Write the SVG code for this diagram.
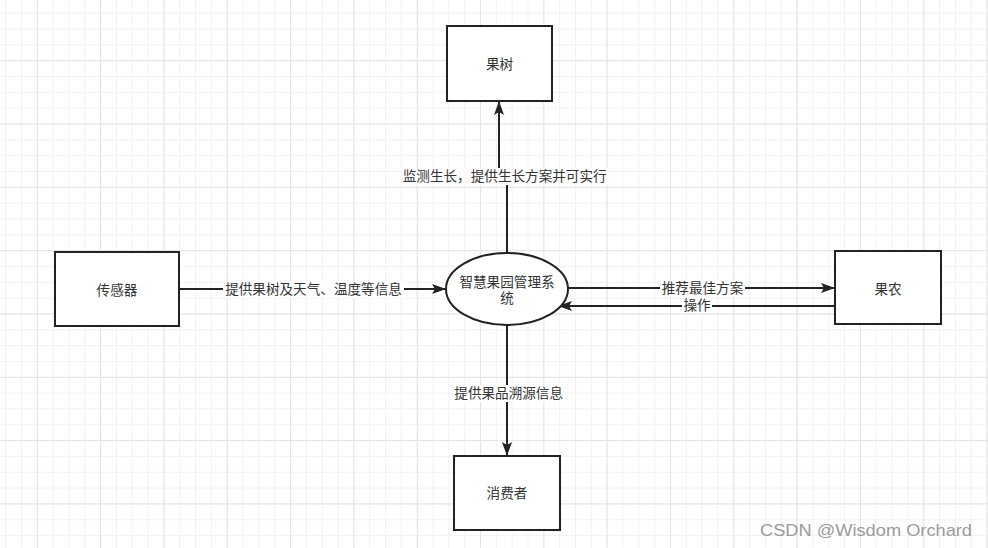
<svg xmlns="http://www.w3.org/2000/svg" width="988" height="548" viewBox="0 0 988 548">
  <style>
    .box { fill: #ffffff; stroke: #222222; stroke-width: 2; }
    .edge { fill: none; stroke: #222222; stroke-width: 2; }
    .t { font-family: "Noto Sans CJK SC", "Liberation Sans", sans-serif; font-size: 13.6px; fill: #333333; text-anchor: middle; }
    .lbg { fill: #ffffff; }
    .wm { font-family: "Liberation Sans", Arial, sans-serif; font-size: 17px; fill: #9b9b9b; }
  </style>
  <defs>
    <pattern id="gMinor" x="5.1" y="12.7" width="15.83" height="15.83" patternUnits="userSpaceOnUse">
      <path d="M0.5 0 V15.83 M0 0.5 H15.83" stroke="#f1f1f1" stroke-width="1" fill="none"/>
    </pattern>
    <pattern id="gMajor" x="36.8" y="60.2" width="63.32" height="63.32" patternUnits="userSpaceOnUse">
      <path d="M0.5 0 V63.32 M0 0.5 H63.32" stroke="#e4e4e4" stroke-width="1" fill="none"/>
    </pattern>
    <marker id="arr" viewBox="0 0 14 10" refX="13" refY="5" markerWidth="14" markerHeight="10" markerUnits="userSpaceOnUse" orient="auto">
      <path d="M0 0 L14 5 L0 10 L3 5 Z" fill="#222222"/>
    </marker>
  </defs>

  <rect x="0" y="0" width="988" height="548" fill="#ffffff"/>
  <rect x="0" y="0" width="988" height="548" fill="url(#gMinor)"/>
  <rect x="0" y="0" width="988" height="548" fill="url(#gMajor)"/>

  <g id="connectors">
    <path class="edge" d="M507 253 V176 H499 V102" marker-end="url(#arr)"/>
    <rect class="lbg" x="401" y="168" width="207" height="17"/>
    <text class="t" x="504.7" y="181">监测生长，提供生长方案并可实行</text>

    <path class="edge" d="M180 289 H445" marker-end="url(#arr)"/>
    <rect class="lbg" x="223" y="281" width="181" height="17"/>
    <text class="t" x="313.5" y="294">提供果树及天气、温度等信息</text>

    <path class="edge" d="M568 288 H834" marker-end="url(#arr)"/>
    <rect class="lbg" x="660" y="280" width="85" height="17"/>
    <text class="t" x="702.5" y="293">推荐最佳方案</text>

    <path class="edge" d="M835 306 H559" marker-end="url(#arr)"/>
    <rect class="lbg" x="682" y="298" width="30" height="15"/>
    <text class="t" x="697" y="310">操作</text>

    <path class="edge" d="M507 325 V455" marker-end="url(#arr)"/>
    <rect class="lbg" x="453" y="385" width="112" height="17"/>
    <text class="t" x="508.7" y="398">提供果品溯源信息</text>
  </g>

  <g id="node-guoshu">
    <rect class="box" x="447" y="26" width="105" height="75"/>
    <text class="t" x="499.5" y="69">果树</text>
  </g>

  <g id="node-sensor">
    <rect class="box" x="55" y="252" width="124" height="74"/>
    <text class="t" x="117" y="295">传感器</text>
  </g>

  <g id="node-system">
    <ellipse class="box" cx="507" cy="289" rx="61" ry="36"/>
    <text class="t" x="507" y="287">智慧果园管理系</text>
    <text class="t" x="507" y="303">统</text>
  </g>

  <g id="node-farmer">
    <rect class="box" x="835" y="251" width="106" height="73"/>
    <text class="t" x="888" y="294">果农</text>
  </g>

  <g id="node-consumer">
    <rect class="box" x="454" y="456" width="106" height="74"/>
    <text class="t" x="507" y="498">消费者</text>
  </g>

  <text class="wm" x="760" y="536" textLength="212" lengthAdjust="spacingAndGlyphs">CSDN @Wisdom Orchard</text>
</svg>
